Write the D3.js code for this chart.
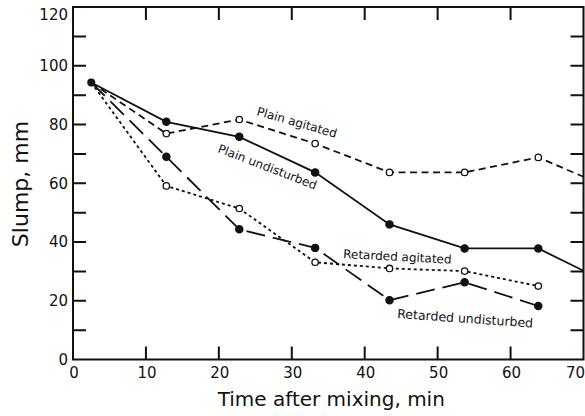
<!DOCTYPE html>
<html><head><meta charset="utf-8">
<script src="https://cdn.jsdelivr.net/npm/d3@7"></script>
<style>body{margin:0;background:#fff}svg{display:block}text{font-family:"DejaVu Sans",sans-serif;fill:#111}</style>
</head><body><svg id="c" width="585" height="416"></svg>
<script>
const times = [2.5, 12.8, 22.8, 33.2, 43.4, 53.7, 63.8, 70];
const plainUndisturbed = [94.3, 80.9, 75.8, 63.7, 46.0, 37.8, 37.8, 30.2];
const plainAgitated    = [94.3, 76.9, 81.7, 73.5, 63.7, 63.7, 68.8, 62.2];
const retardedAgitated = [94.3, 59.1, 51.4, 33.1, 31.0, 30.1, 25.0];
const retardedUndisturbed = [94.3, 69.0, 44.3, 38.0, 20.2, 26.3, 18.2];
const xTicks = [0,10,20,30,40,50,60,70];
const yTicks = [0,20,40,60,80,100,120];
const yMinor = [10,20,30,40,50,60,70,80,90,100,110];
const xTitle = "Time after mixing, min";
const yTitle = "Slump, mm";

const svg = d3.select("#c");
const x = d3.scaleLinear().domain([0,70]).range([73,583.5]);
const y = d3.scaleLinear().domain([0,120]).range([359.5,7]);
const tl = 13;

// frame + inward ticks in a single path
const fp = d3.path();
fp.rect(x(0), y(120), x(70)-x(0), y(0)-y(120));
xTicks.slice(1,-1).forEach(v=>{
  fp.moveTo(x(v), y(0)); fp.lineTo(x(v), y(0)-tl);
  fp.moveTo(x(v), y(120)); fp.lineTo(x(v), y(120)+tl);
});
yMinor.forEach(v=>{
  fp.moveTo(x(0), y(v)); fp.lineTo(x(0)+tl, y(v));
  fp.moveTo(x(70), y(v)); fp.lineTo(x(70)-tl, y(v));
});
svg.append("path").attr("d", fp.toString()).attr("fill","none").attr("stroke","#111").attr("stroke-width",2);

// tick labels
xTicks.forEach(v=>{
  const last = v===70;
  svg.append("text").attr("x",last?585:x(v)+1).attr("y",378).attr("text-anchor",last?"end":"middle")
    .attr("font-size",15).text(v);
});
yTicks.forEach(v=>{
  svg.append("text").attr("x",68).attr("y",Math.max(y(v),15)).attr("dy","0.36em").attr("text-anchor","end")
    .attr("font-size",15).text(v);
});

// titles
svg.append("text").attr("x",(x(0)+x(70))/2+3).attr("y",406).attr("text-anchor","middle")
  .attr("font-size",20).text(xTitle);
svg.append("text").attr("transform",`translate(28,${184}) rotate(-90)`).attr("text-anchor","middle")
  .attr("font-size",22).text(yTitle);

// clip
svg.append("clipPath").attr("id","pc").append("rect").attr("x",x(0)).attr("y",y(120)).attr("width",x(70)-x(0)).attr("height",y(0)-y(120));

const series = [
  {vals: plainAgitated, dash:"7,4.5", open:true},
  {vals: retardedAgitated, dash:"3,3", open:true},
  {vals: retardedUndisturbed, dash:"19,8", open:false},
  {vals: plainUndisturbed, dash:null, open:false},
];
const line = d3.line().x(d=>x(d[0])).y(d=>y(d[1]));
series.forEach(s=>{
  const pts = s.vals.map((v,i)=>[times[i],v]);
  svg.append("path").attr("d",line(pts)).attr("fill","none").attr("stroke","#111")
    .attr("stroke-width",1.8).attr("stroke-dasharray",s.dash).attr("clip-path","url(#pc)");
});
series.forEach(s=>{
  const pts = s.vals.map((v,i)=>[times[i],v]).filter(d=>d[0]<69);
  svg.selectAll(null).data(pts.slice(1)).enter().append("circle")
    .attr("cx",d=>x(d[0])).attr("cy",d=>y(d[1])).attr("r",s.open?3.2:3.6)
    .attr("fill",s.open?"#fff":"#111").attr("stroke","#111").attr("stroke-width",1.3);
});
svg.append("circle").attr("cx",x(times[0])).attr("cy",y(plainUndisturbed[0])).attr("r",4).attr("fill","#111");

// labels
const labels = [
  {t:"Plain agitated", x:256, y:115, a:16, s:12},
  {t:"Plain undisturbed", x:217, y:152, a:21, s:12},
  {t:"Retarded agitated", x:343, y:258, a:3, s:12},
  {t:"Retarded undisturbed", x:397, y:318, a:4, s:12.5},
];
labels.forEach(l=>{
  svg.append("text").attr("transform",`translate(${l.x},${l.y}) rotate(${l.a})`).attr("font-size",l.s).text(l.t);
});
</script></body></html>
